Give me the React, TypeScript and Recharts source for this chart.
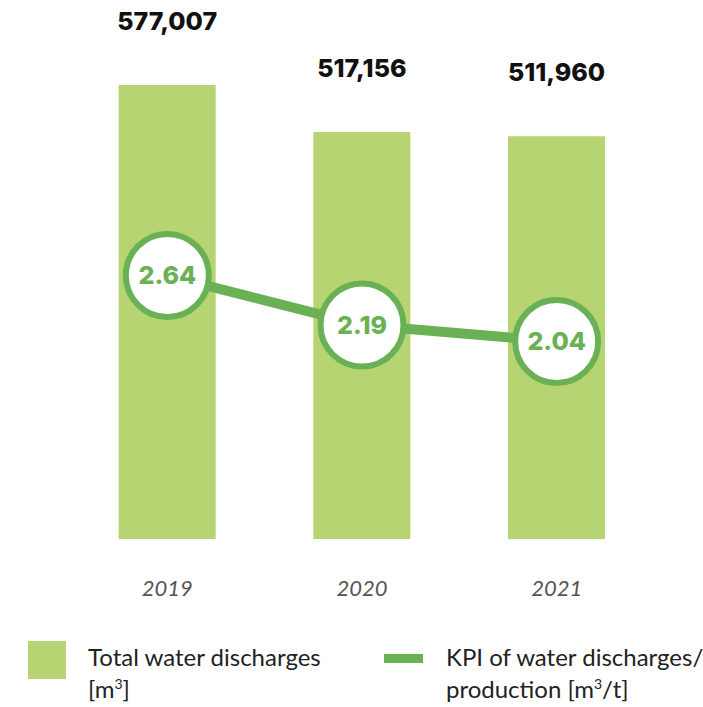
import React from "react";
import { ComposedChart, Bar, Line, XAxis, YAxis, LabelList } from "recharts";

const years = ["2019", "2020", "2021"];
const totalDischarges = [577007, 517156, 511960];
const kpiValues = [2.64, 2.19, 2.04];

const data = years.map((y, i) => ({ year: y, total: totalDischarges[i], kpi: kpiValues[i] }));

const BAR_COLOR = "#b6d472";
const LINE_COLOR = "#6ab155";
const NUM_FONT = "Inter, 'DejaVu Sans', sans-serif";
const TEXT_FONT = "Lato, 'Open Sans', sans-serif";

const fmt = (v: number) => v.toLocaleString("en-US");

const BarTopLabel = (props: any) => {
  const { x, y, width, value } = props;
  return (
    <text
      x={x + width / 2}
      y={y - 55}
      textAnchor="middle"
      fontFamily={NUM_FONT}
      fontWeight={800}
      fontSize={25}
      fill="#111"
    >
      {fmt(value)}
    </text>
  );
};

const KpiDot = (props: any) => {
  const { cx, cy, value } = props;
  return (
    <g>
      <circle cx={cx} cy={cy} r={41.5} fill="#ffffff" stroke={LINE_COLOR} strokeWidth={6} />
      <text
        x={cx}
        y={cy + 8.5}
        textAnchor="middle"
        fontFamily={NUM_FONT}
        fontWeight={800}
        fontSize={25}
        fill={LINE_COLOR}
      >
        {value.toFixed(2)}
      </text>
    </g>
  );
};

const YearTick = (props: any) => {
  const { x, y, payload } = props;
  return (
    <text
      x={x}
      y={y}
      dy={49}
      textAnchor="middle"
      fontFamily={TEXT_FONT}
      fontStyle="italic"
      fontSize={22}
      fill="#555"
    >
      {payload.value}
    </text>
  );
};

const legendText: React.CSSProperties = {
  position: "absolute",
  top: 641,
  fontFamily: TEXT_FONT,
  fontSize: 24,
  lineHeight: "32px",
  color: "#222",
  whiteSpace: "nowrap",
};

const supStyle: React.CSSProperties = { fontSize: 14, verticalAlign: "top", lineHeight: "22px" };

export default function App() {
  return (
    <div style={{ position: "absolute", left: 0, top: 0, width: 703, height: 707, background: "#fff" }}>
      <ComposedChart
        width={703}
        height={707}
        data={data}
        margin={{ top: 85, right: 49, left: 70, bottom: 108 }}
        barCategoryGap="25%"
      >
        <XAxis dataKey="year" axisLine={false} tickLine={false} height={60} tick={<YearTick />} interval={0} />
        <YAxis yAxisId="bar" hide domain={[0, 577007]} />
        <YAxis yAxisId="kpi" orientation="right" hide domain={[0.245, 4.372]} allowDataOverflow />
        <Bar yAxisId="bar" dataKey="total" fill={BAR_COLOR} isAnimationActive={false}>
          <LabelList dataKey="total" content={<BarTopLabel />} />
        </Bar>
        <Line
          yAxisId="kpi"
          dataKey="kpi"
          stroke={LINE_COLOR}
          strokeWidth={10}
          dot={<KpiDot />}
          activeDot={false}
          isAnimationActive={false}
          type="linear"
        />
      </ComposedChart>
      <div style={{ position: "absolute", left: 28, top: 641, width: 38, height: 38, background: BAR_COLOR }} />
      <div style={{ ...legendText, left: 88 }}>
        Total water discharges
        <br />[m<sup style={supStyle}>3</sup>]
      </div>
      <div style={{ position: "absolute", left: 384, top: 654, width: 39, height: 9, background: LINE_COLOR }} />
      <div style={{ ...legendText, left: 446 }}>
        KPI of water discharges/
        <br />production [m<sup style={supStyle}>3</sup>/t]
      </div>
    </div>
  );
}
